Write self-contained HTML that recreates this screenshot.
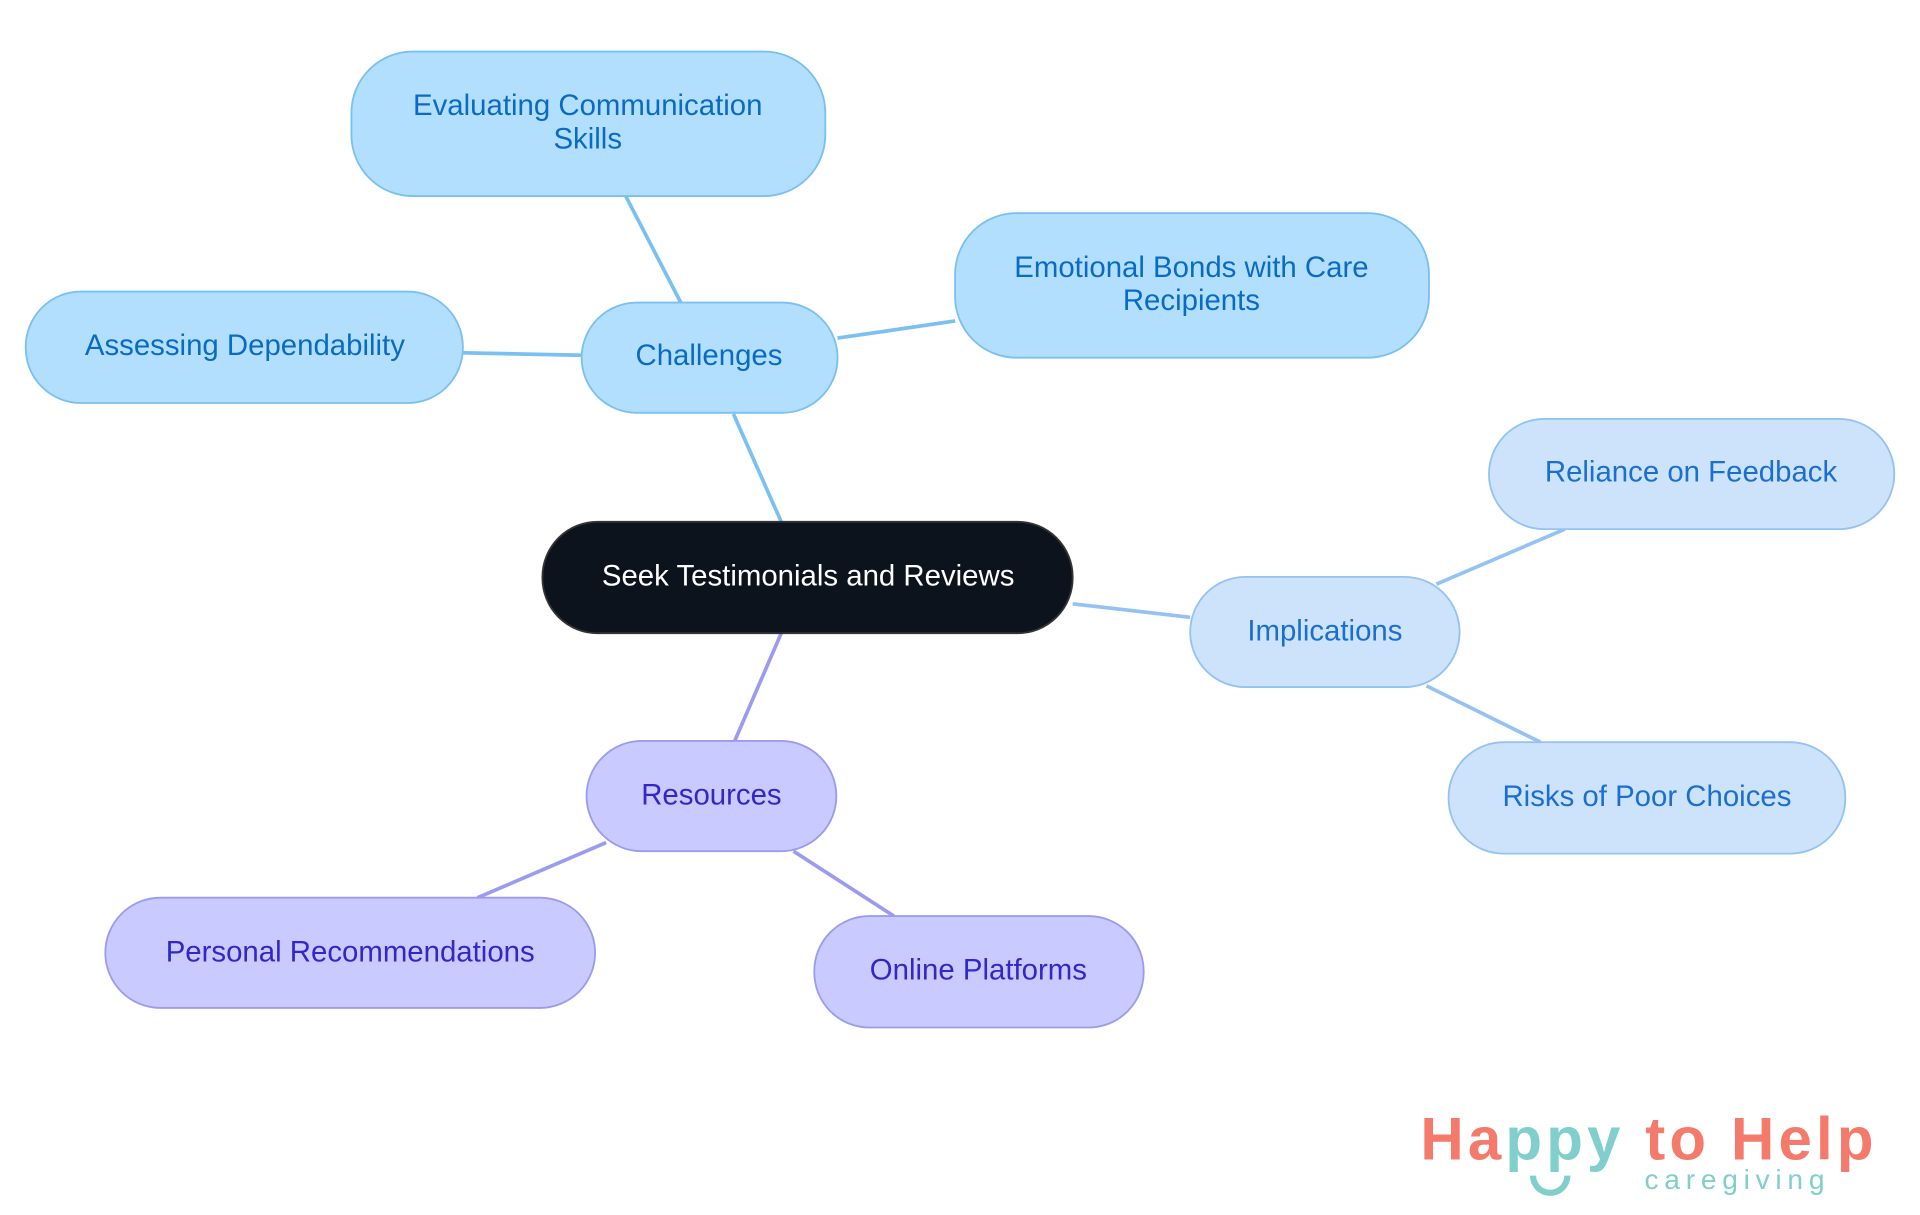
<!DOCTYPE html>
<html><head><meta charset="utf-8"><style>html,body{margin:0;padding:0;background:#fff}svg{display:block}</style></head><body>
<svg width="1920" height="1215" viewBox="0 0 1568 992" xmlns="http://www.w3.org/2000/svg" font-family="Liberation Sans, sans-serif">
<g stroke-width="3" fill="none">
<path d="M638 426L599 338M556 247L511 160M475 290L378 288M684 276L780 262" stroke="#7ac0f0"/>
<path d="M876 493L972 504M1173 477L1278 432M1165 560L1258 606" stroke="#94c3f3"/>
<path d="M638 517L600 605M495 688L390 733M648 695L730 748" stroke="#9a9cf0"/>
</g>
<g stroke-width="1.5">
<rect x="443" y="426" width="433" height="91" rx="45" fill="#0d131c" stroke="#333"/>
<g fill="#b3dffe" stroke="#7ac0f0">
<rect x="475" y="247" width="209" height="90" rx="45"/>
<rect x="287" y="42" width="387" height="118" rx="50"/>
<rect x="780" y="174" width="387" height="118" rx="50"/>
<rect x="21" y="238" width="357" height="91" rx="45"/>
</g>
<g fill="#cde3fb" stroke="#94c3f3">
<rect x="972" y="471" width="220" height="90" rx="45"/>
<rect x="1216" y="342" width="331" height="90" rx="45"/>
<rect x="1183" y="606" width="324" height="91" rx="45"/>
</g>
<g fill="#c9caff" stroke="#9a9cf0">
<rect x="479" y="605" width="204" height="90" rx="45"/>
<rect x="86" y="733" width="400" height="90" rx="45"/>
<rect x="665" y="748" width="269" height="91" rx="45"/>
</g>
</g>
<g font-size="24" text-anchor="middle">
<text x="660" y="478" fill="#fff">Seek Testimonials and Reviews</text>
<g fill="#0a6bc4">
<text x="579" y="298">Challenges</text>
<text x="480" y="94">Evaluating Communication</text>
<text x="480" y="121">Skills</text>
<text x="973" y="226">Emotional Bonds with Care</text>
<text x="973" y="253">Recipients</text>
<text x="200" y="290">Assessing Dependability</text>
</g>
<g fill="#1a6fd0">
<text x="1082" y="523">Implications</text>
<text x="1381" y="393">Reliance on Feedback</text>
<text x="1345" y="658">Risks of Poor Choices</text>
</g>
<g fill="#3028c8">
<text x="581" y="657">Resources</text>
<text x="286" y="785">Personal Recommendations</text>
<text x="799" y="800">Online Platforms</text>
</g>
</g>
<text x="1160" y="947" font-size="49" font-weight="bold" fill="#f47a6c" textLength="370" lengthAdjust="spacing">Ha<tspan fill="#80cfcd">ppy</tspan> to Help</text>
<text x="1343" y="971" font-size="23" fill="#80cfcd" textLength="147" lengthAdjust="spacing">caregiving</text>
<path d="M1252 960a14 14 0 0 0 28 0" stroke="#80cfcd" stroke-width="5" fill="none"/>
</svg>
</body></html>
